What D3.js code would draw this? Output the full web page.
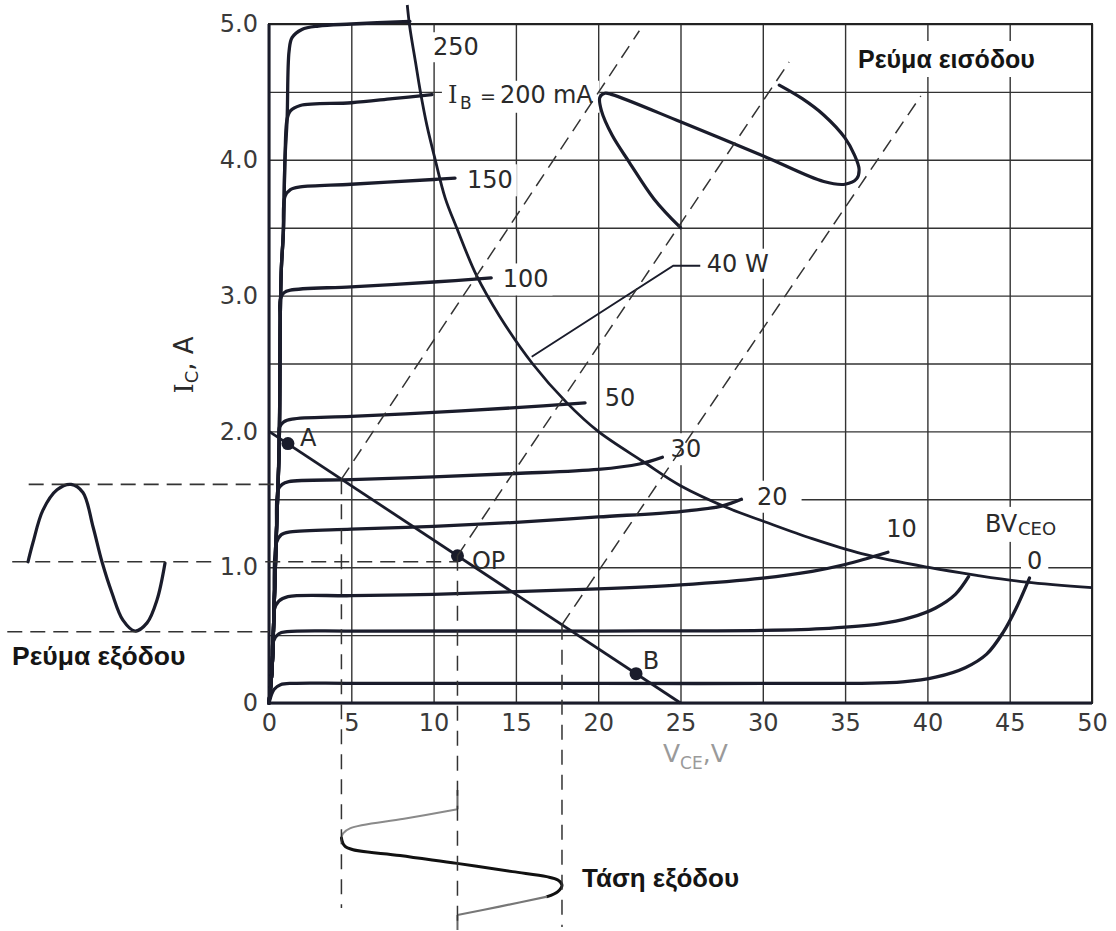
<!DOCTYPE html>
<html><head><meta charset="utf-8">
<script src="https://cdn.jsdelivr.net/npm/d3@7/dist/d3.min.js"></script>
<style>
html,body{margin:0;padding:0;background:#fff;}
svg{display:block;}
</style></head><body>
<svg id="chart" width="1116" height="931"></svg>
<script>
// ================= DATA =================
const xTickValues = [0,5,10,15,20,25,30,35,40,45,50];
const xTickLabels = ["0","5","10","15","20","25","30","35","40","45","50"];
const yTickValues = [0,1,2,3,4,5];
const yTickLabels = ["0","1.0","2.0","3.0","4.0","5.0"];
const xGridValues = [0,5,10,15,20,25,30,35,40,45,50];
const yGridValues = [0,0.5,1,1.5,2,2.5,3,3.5,4,4.5,5];

// common saturation rise [V, A]
const satLocus = [[0,0],[0.18,0.24],[0.3,0.66],[0.45,1.25],[0.62,1.9],[0.68,2.8],[0.75,3.2],[0.87,3.46],[0.97,4.0],[1.1,4.3],[1.22,4.84]];
// collector curves [V, A] from the knee on, one per base current
const curveIB0   = [[0.3,0.1],[0.7,0.135],[1.5,0.145],[5,0.145],[20,0.145],[36,0.145],[38.5,0.155],[40.5,0.19],[42.3,0.26],[43.6,0.36],[44.6,0.52],[45.4,0.7],[46.2,0.92]];
const curveIB5   = [[0.25,0.45],[0.6,0.51],[1.1,0.525],[5,0.53],[20,0.53],[30,0.535],[34,0.55],[37,0.58],[39,0.63],[40.5,0.7],[41.7,0.8],[42.5,0.93]];
const curveIB10  = [[0.3,0.68],[0.6,0.75],[1.15,0.783],[5,0.79],[10,0.8],[15,0.82],[20,0.84],[25,0.87],[30,0.92],[33,0.97],[35,1.02],[37.6,1.11]];
const curveIB20  = [[0.45,1.18],[0.75,1.24],[1.3,1.26],[5,1.28],[10,1.3],[15,1.33],[20,1.37],[25,1.41],[27.5,1.45],[28.7,1.5]];
const curveIB30  = [[0.55,1.57],[0.8,1.61],[1.2,1.63],[5,1.645],[10,1.665],[15,1.69],[20,1.72],[22.5,1.76],[23.9,1.81]];
const curveIB50  = [[0.63,2.03],[0.9,2.07],[1.4,2.09],[5,2.11],[10,2.14],[15,2.175],[19.2,2.21]];
const curveIB100 = [[0.68,2.97],[0.9,3.02],[1.3,3.04],[5,3.065],[10,3.1],[13.5,3.13]];
const curveIB150 = [[0.97,3.73],[1.3,3.78],[1.9,3.8],[5,3.82],[10,3.855],[11.3,3.865]];
const curveIB200 = [[1.1,4.3],[1.3,4.36],[1.9,4.4],[5,4.42],[7.5,4.45],[9.9,4.48]];
const curveIB250 = [[1.22,4.8],[1.4,4.9],[2,4.96],[3,4.985],[5,5.0],[8.56,5.02]];
const curveLabels = ["0","","10","20","30","50","100","150","200","250"];

// 40 W dissipation limit [V, A]
const powerLimit = [[8.4,5.14],[8.55,4.98],[8.9,4.72],[9.2,4.5],[9.6,4.25],[10.1,4.0],[10.7,3.72],[11.4,3.5],[12.6,3.15],[14,2.85],[16,2.5],[18.1,2.21],[20,2.0],[22.7,1.78],[25,1.6],[28,1.43],[30,1.34],[33,1.21],[36,1.1],[40,1.0],[43,0.94],[46,0.89],[50,0.85]];
const powerLeader = [[15.96,2.55],[24.56,3.22],[26.2,3.22]];

// load line and working points [V, A]
const loadLine = [[0,2.0],[25,0]];
const pointNames = ["A","OP","B"];
const pointValues = [[1.15,1.91],[11.45,1.084],[22.3,0.216]];

// input current loop [V, A]
const inputLoop = [[25,3.5],[23.4,3.71],[21.9,3.98],[20.85,4.18],[20.2,4.36],[20.1,4.46],[20.4,4.49],[20.85,4.48],[25,4.28],[30,4.03],[33.7,3.84],[35,3.82],[35.7,3.86],[35.85,3.93],[35.55,4.04],[35,4.16],[33.7,4.33],[32.4,4.45],[31,4.55]];
const diag1 = [[4.4,1.648],[22.5,4.95]];
const diag2 = [[11.45,1.084],[31.6,4.72]];
const diag3 = [[17.8,0.576],[39.6,4.47]];

// projection lines [V, A]
const hDash1 = [[-14.6,1.61],[0.5,1.61]];
const hDash2 = [[-15.6,1.04],[11.45,1.04]];
const hDash3 = [[-15.9,0.525],[0,0.525]];
const vDash1 = [[4.4,1.648],[4.4,-1.51]];
const vDash2 = [[11.45,1.084],[11.45,-1.67]];
const vDash3 = [[17.8,0.576],[17.8,-1.65]];

// output current waveform [t, A]
const outCurrent = [[0,1.04],[0.036,1.18],[0.109,1.42],[0.212,1.57],[0.314,1.61],[0.401,1.55],[0.474,1.3],[0.54,1.04],[0.613,0.81],[0.693,0.61],[0.781,0.53],[0.869,0.59],[0.942,0.76],[1.0,1.03]];
// output voltage waveform [V, t]
const outVoltTopStub = [[11.45,0],[11.45,0.138]];
const outVoltUpper = [[11.45,0.138],[8.2,0.206],[4.92,0.274],[4.5,0.31],[4.4,0.343]];
const outVoltMiddle = [[4.4,0.343],[4.65,0.405],[7.96,0.468],[11.42,0.524],[14.8,0.583],[16.87,0.619],[17.55,0.643],[17.8,0.679],[17.55,0.726],[16.9,0.762]];
const outVoltLower = [[16.9,0.762],[14.0,0.833],[11.45,0.893]];
const outVoltBottomStub = [[11.45,0.893],[11.45,1.0]];

// ================= DRAWING =================
const svg = d3.select("#chart");
const x = d3.scaleLinear().domain([0,50]).range([269,1092]);
const y = d3.scaleLinear().domain([0,5]).range([703,24]);
const tOut = d3.scaleLinear().domain([0,1]).range([790,930]);
const tCur = d3.scaleLinear().domain([0,1]).range([28,165]);

const INK = "#1a1c2b";
const FONT = "'DejaVu Sans', Verdana, sans-serif";
const BOLD = "'Liberation Sans', Arial, sans-serif";
const SERIF = "'DejaVu Serif', serif";

svg.append("rect").attr("width",1116).attr("height",931).attr("fill","#fff");
const gGrid = svg.append("g");
const gBg = svg.append("g");
const gCurves = svg.append("g");
const gDash = svg.append("g");
const gTickBg = svg.append("g");
const gText = svg.append("g");

// grid via axes
gGrid.append("g").attr("transform",`translate(0,${y(0)})`)
  .call(d3.axisBottom(x).tickValues(xGridValues).tickSize(-(y(0)-y(5))).tickFormat(""))
  .call(g=>g.select(".domain").remove())
  .call(g=>g.selectAll("line").attr("stroke","#333").attr("stroke-width",1.4));
gGrid.append("g").attr("transform",`translate(${x(0)},0)`)
  .call(d3.axisLeft(y).tickValues(yGridValues).tickSize(-(x(50)-x(0))).tickFormat(""))
  .call(g=>g.select(".domain").remove())
  .call(g=>g.selectAll("line").attr("stroke","#333").attr("stroke-width",1.4));
gGrid.append("rect").attr("x",x(0)).attr("y",y(5)).attr("width",x(50)-x(0)).attr("height",y(0)-y(5))
  .attr("fill","none").attr("stroke","#222").attr("stroke-width",2);
gGrid.append("path").attr("d",`M${x(0)},${y(5)}V${y(0)}H${x(50)}`).attr("fill","none").attr("stroke",INK).attr("stroke-width",3);

// tick labels via axes
const xAx = gText.append("g").attr("transform",`translate(0,${y(0)})`)
  .call(d3.axisBottom(x).tickValues(xTickValues).tickSize(0).tickPadding(11).tickFormat((d,i)=>xTickLabels[i]));
xAx.select(".domain").remove();
xAx.selectAll("text").attr("font-family",FONT).attr("font-size",24).attr("fill","#3a3a3a");
const yAx = gText.append("g").attr("transform",`translate(${x(0)},0)`)
  .call(d3.axisLeft(y).tickValues(yTickValues).tickSize(0).tickPadding(11).tickFormat((d,i)=>yTickLabels[i]));
yAx.select(".domain").remove();
yAx.selectAll("text").attr("font-family",FONT).attr("font-size",24).attr("fill","#3a3a3a");
yAx.selectAll(".tick").each(function(){
  const t = d3.select(this).select("text").node();
  const b = t.getBBox();
  const m = this.transform.baseVal.consolidate().matrix;
  gTickBg.append("rect").attr("x",x(0)+b.x-3).attr("y",m.f+b.y+4).attr("width",b.width+6).attr("height",b.height-8).attr("fill","#fff");
});

const lineVA = d3.line().x(d=>x(d[0])).y(d=>y(d[1])).curve(d3.curveCatmullRom.alpha(0.5));
const straightVA = d3.line().x(d=>x(d[0])).y(d=>y(d[1]));

// collector curves
const curves = [curveIB0,curveIB5,curveIB10,curveIB20,curveIB30,curveIB50,curveIB100,curveIB150,curveIB200,curveIB250];
curves.forEach(c=>{
  const pts = satLocus.filter(p=>p[1] < c[0][1] && p[0] < c[0][0]+0.001).concat(c);
  gCurves.append("path").attr("d",lineVA(pts)).attr("fill","none").attr("stroke",INK)
    .attr("stroke-width",3.3).attr("stroke-linejoin","round").attr("stroke-linecap","round");
});

// power limit
gCurves.append("path").attr("d",lineVA(powerLimit)).attr("fill","none").attr("stroke",INK).attr("stroke-width",2.8);
gCurves.append("path").attr("d",straightVA(powerLeader)).attr("fill","none").attr("stroke",INK).attr("stroke-width",1.9);

// load line
gCurves.append("path").attr("d",straightVA(loadLine)).attr("fill","none").attr("stroke",INK).attr("stroke-width",2.8);

// input loop
gCurves.append("path").attr("d",lineVA(inputLoop)).attr("fill","none").attr("stroke",INK).attr("stroke-width",3.2).attr("stroke-linecap","round");

// dashed lines
[diag1,diag2,diag3].forEach(d=>{
  gDash.append("path").attr("d",straightVA(d)).attr("fill","none").attr("stroke","#333").attr("stroke-width",1.5).attr("stroke-dasharray","14,8");
});
[hDash1,hDash2,hDash3].forEach(d=>{
  gDash.append("path").attr("d",straightVA(d)).attr("fill","none").attr("stroke","#333").attr("stroke-width",1.6).attr("stroke-dasharray","15,8");
});
[vDash1,vDash2,vDash3].forEach(d=>{
  gDash.append("path").attr("d",straightVA(d)).attr("fill","none").attr("stroke","#333").attr("stroke-width",1.5).attr("stroke-dasharray","15,10");
});

// points
gCurves.selectAll("circle.pt").data(pointValues).join("circle").attr("class","pt")
  .attr("cx",d=>x(d[0])).attr("cy",d=>y(d[1])).attr("r",6.5).attr("fill",INK);

// output current waveform (left)
const lineTA = d3.line().x(d=>tCur(d[0])).y(d=>y(d[1])).curve(d3.curveCatmullRom.alpha(0.5));
gCurves.append("path").attr("d",lineTA(outCurrent)).attr("fill","none").attr("stroke",INK).attr("stroke-width",3.2).attr("stroke-linecap","round");

// output voltage waveform (bottom)
const lineVT = d3.line().x(d=>x(d[0])).y(d=>tOut(d[1])).curve(d3.curveCatmullRom.alpha(0.5));
const straightVT = d3.line().x(d=>x(d[0])).y(d=>tOut(d[1]));
gCurves.append("path").attr("d",straightVT(outVoltTopStub)).attr("stroke","#666").attr("stroke-width",2).attr("fill","none");
gCurves.append("path").attr("d",straightVT(outVoltBottomStub)).attr("stroke","#666").attr("stroke-width",2).attr("fill","none");
gCurves.append("path").attr("d",lineVT(outVoltUpper)).attr("stroke","#8a8a8a").attr("stroke-width",2).attr("fill","none");
gCurves.append("path").attr("d",lineVT(outVoltMiddle)).attr("stroke","#111").attr("stroke-width",3).attr("fill","none").attr("stroke-linecap","round");
gCurves.append("path").attr("d",lineVT(outVoltLower)).attr("stroke","#777").attr("stroke-width",2.2).attr("fill","none");

// ---- text helper ----
function addText(px, py, parts, opt){
  opt = opt || {};
  const t = gText.append("text").attr("font-family",opt.family||FONT).attr("font-size",opt.size||24)
    .attr("fill",opt.fill||"#2a2a2a").attr("font-weight",opt.weight||"normal");
  parts.forEach(p=>{
    const ts = t.append("tspan").text(p.t).attr("x",px+(p.dx||0)).attr("y",py+(p.dy||0));
    if(p.size) ts.attr("font-size",p.size);
    if(p.family) ts.attr("font-family",p.family);
  });
  if(opt.bg){
    const b = t.node().getBBox();
    const [padX,padY] = opt.bg;
    gBg.append("rect").attr("x",b.x-padX).attr("y",b.y-padY).attr("width",b.width+2*padX).attr("height",b.height+2*padY).attr("fill","#fff");
  }
  return t;
}

// curve labels
addText(x(9.96), y(4.77), [{t:curveLabels[9]}], {bg:[3,1]});
addText(x(10.87), y(4.42), [{t:"I",family:SERIF},{t:"B",dx:12,dy:6,size:17},{t:"=",dx:32,size:19},{t:curveLabels[8],dx:52},{t:"mA",dx:105}], {bg:[6,0]});
addText(x(12.03), y(3.79), [{t:curveLabels[7]}], {bg:[4,2]});
addText(x(14.2), y(3.06), [{t:curveLabels[6]}], {bg:[4,2]});
addText(x(20.4), y(2.19), [{t:curveLabels[5]}]);
addText(x(24.4), y(1.81), [{t:curveLabels[4]}], {bg:[3,2]});
addText(x(29.65), y(1.46), [{t:curveLabels[3]}], {bg:[14,2]});
addText(x(37.5), y(1.22), [{t:curveLabels[2]}]);
addText(x(43.5), y(1.26), [{t:"BV"},{t:"CEO",dx:33,dy:3,size:18}], {bg:[3,3]});
addText(x(46.05), y(0.99), [{t:curveLabels[0]}], {bg:[6,0]});
addText(x(26.6), y(3.176), [{t:"40 W"}], {bg:[3,1]});

// point labels
addText(x(1.88), y(1.89), [{t:pointNames[0]}]);
addText(x(12.33), y(0.99), [{t:pointNames[1]}]);
addText(x(22.7), y(0.25), [{t:pointNames[2]}]);

// axis titles
gText.append("text").attr("transform",`translate(193,365) rotate(-90)`).attr("text-anchor","middle")
  .attr("font-family",FONT).attr("font-size",26).attr("fill","#2a2a2a")
  .call(t=>{ t.append("tspan").text("I").attr("font-family",SERIF);
             t.append("tspan").text("C").attr("font-size",18).attr("dy",5);
             t.append("tspan").text(", A").attr("dy",-5); });
gText.append("text").attr("x",663).attr("y",762).attr("font-family",FONT).attr("font-size",25).attr("fill","#9a9a9a")
  .call(t=>{ t.append("tspan").text("V");
             t.append("tspan").text("CE").attr("font-size",17).attr("dy",7);
             t.append("tspan").text(",V").attr("dy",-7); });

// greek annotations
addText(858, 68, [{t:"Ρεύμα εισόδου"}], {family:BOLD, weight:"bold", size:25, fill:"#151515", bg:[6,4]});
addText(12, 665, [{t:"Ρεύμα εξόδου"}], {family:BOLD, weight:"bold", size:26.5, fill:"#151515"});
addText(582, 887, [{t:"Τάση εξόδου"}], {family:BOLD, weight:"bold", size:26, fill:"#151515"});
</script>
</body></html>
